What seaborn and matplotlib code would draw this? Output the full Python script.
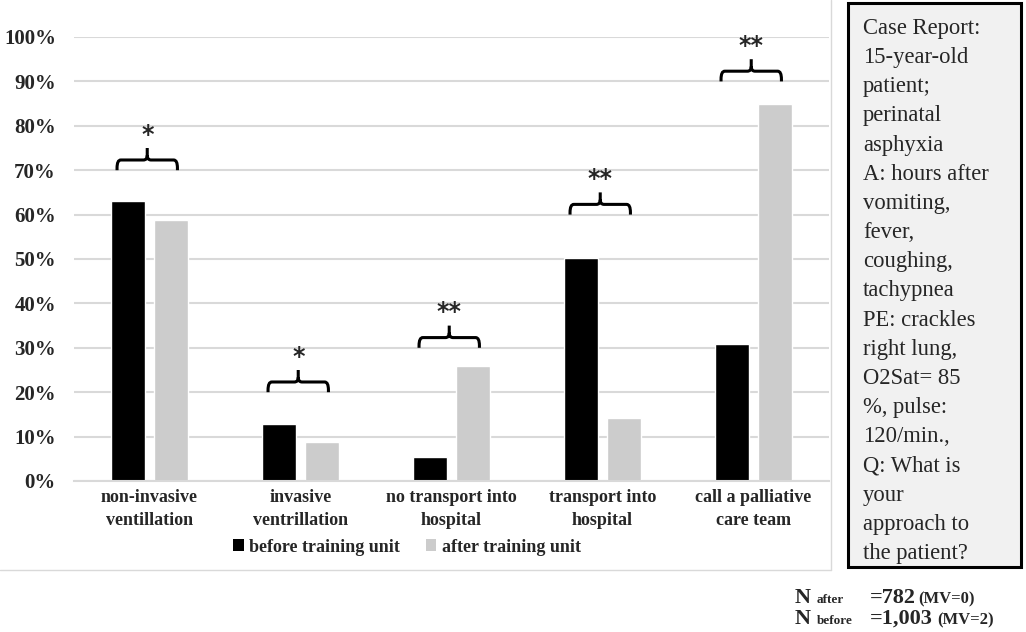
import matplotlib
matplotlib.use("Agg")
import matplotlib.pyplot as plt
from matplotlib.path import Path
from matplotlib.patches import PathPatch, Rectangle
from matplotlib.lines import Line2D
import seaborn as sns
import pandas as pd

categories = ["non-invasive\nventillation", "invasive\nventrillation",
              "no transport into\nhospital", "transport into\nhospital",
              "call a palliative\ncare team"]
before = [63.0, 12.9, 5.5, 50.2, 30.9]
after = [58.8, 8.7, 26.0, 14.3, 85.0]
series = ["before training unit", "after training unit"]
bracket_base = [70, 20, 30, 60, 90]
bracket_marks = ["*", "*", "**", "**", "**"]
yticks = list(range(0, 101, 10))
case_text = ("Case Report:\n15-year-old\npatient;\nperinatal\nasphyxia\n"
             "A: hours after\nvomiting,\nfever,\ncoughing,\ntachypnea\n"
             "PE: crackles\nright lung,\nO2Sat= 85\n%, pulse:\n120/min.,\n"
             "Q: What is\nyour\napproach to\nthe patient?")

df = pd.DataFrame({
    "category": categories * 2,
    "phase": [series[0]] * len(categories) + [series[1]] * len(categories),
    "value": before + after,
})

sns.set_style("white")
plt.rcParams["font.family"] = ["Liberation Serif", "DejaVu Serif"]

W, H = 1026, 632
fig = plt.figure(figsize=(W / 100, H / 100), dpi=100)
ax = fig.add_axes([74 / W, 1 - 481 / H, (829 - 74) / W, (481 - 37) / H])

sns.barplot(data=df, x="category", y="value", hue="phase", order=categories,
            hue_order=series, palette=["#000000", "#cccccc"], width=0.576,
            gap=0.22, ax=ax, legend=False, saturation=1, errorbar=None)

ax.set_ylim(0, 100)
ax.set_xlim(-0.5, len(categories) - 0.5)
ax.set_yticks(yticks)
ax.set_yticklabels([f"{t}%" for t in yticks], fontsize=15, fontweight="bold")
ax.set_xticks(range(len(categories)))
ax.set_xticklabels(categories, fontsize=13, fontweight="bold", linespacing=1.45)
ax.tick_params(axis="y", length=0, pad=13)
ax.tick_params(axis="x", length=0, pad=6)
ax.set_xlabel("")
ax.set_ylabel("")
ax.yaxis.grid(True, color="#d9d9d9", linewidth=1.5)
ax.set_axisbelow(True)
for s in ["top", "right", "left"]:
    ax.spines[s].set_visible(False)
ax.spines["bottom"].set_color("#d9d9d9")
ax.spines["bottom"].set_linewidth(1.5)

# significance braces
hw = 0.2
for i, (b, m) in enumerate(zip(bracket_base, bracket_marks)):
    xc = i - 0.015
    x0, x1 = xc - hw, xc + hw
    yh = b + 2.3
    yt = b + 5.0
    rx, ry = 0.025, 1.8
    verts = [(x0, b), (x0, yh - ry), (x0, yh), (x0 + rx, yh),
             (xc - rx, yh), (xc, yh), (xc, yh + ry * 0.6), (xc, yt),
             (xc, yh + ry * 0.6), (xc, yh), (xc + rx, yh),
             (x1 - rx, yh), (x1, yh), (x1, yh - ry), (x1, b)]
    codes = [Path.MOVETO, Path.LINETO, Path.CURVE3, Path.CURVE3,
             Path.LINETO, Path.CURVE3, Path.CURVE3, Path.LINETO,
             Path.MOVETO, Path.CURVE3, Path.CURVE3,
             Path.LINETO, Path.CURVE3, Path.CURVE3, Path.LINETO]
    ax.add_patch(PathPatch(Path(verts, codes), fill=False, lw=2.2,
                           edgecolor="black", capstyle="butt", clip_on=False))
    ax.text(xc, b + 8.0, m, ha="center", va="center", fontsize=17,
            fontweight="bold", family=["DejaVu Sans"], clip_on=False)

# legend
handles = [Rectangle((0, 0), 1, 1, facecolor=c, edgecolor="none")
           for c in ["#000000", "#cccccc"]]
fig.legend(handles, series, loc="center", bbox_to_anchor=(407 / W, 1 - 547 / H),
           ncol=2, frameon=False, handlelength=0.6, handleheight=0.6,
           handletextpad=0.3, columnspacing=1.4,
           prop={"family": "Liberation Serif", "weight": "bold", "size": 13})

# chart-area frame (right and bottom)
fig.add_artist(Line2D([831 / W, 831 / W], [1, 1 - 570 / H], color="#d9d9d9",
                      lw=1, transform=fig.transFigure))
fig.add_artist(Line2D([0, 831 / W], [1 - 570 / H, 1 - 570 / H], color="#d9d9d9",
                      lw=1, transform=fig.transFigure))

# case report box
fig.add_artist(Rectangle((848 / W, 1 - 567 / H), (1021 - 848) / W, (567 - 3) / H,
                         facecolor="#f1f1f1", edgecolor="black", lw=2.2,
                         transform=fig.transFigure))
fig.text(863 / W, 1 - 18 / H, case_text, ha="left", va="top", fontsize=16.3,
         linespacing=1.51, family=["Liberation Serif"])

# sample sizes
rows = [("after", "=782", "(MV=0)", 603, 918),
        ("before", "=1,003", "(MV=2)", 624, 937)]
for sub, n, mv, yb, xmv in rows:
    yy = 1 - yb / H
    fig.text(795 / W, yy, "N", fontsize=16, fontweight="bold", va="baseline")
    fig.text(817 / W, yy, sub, fontsize=9.5, fontweight="bold", va="baseline")
    fig.text(870 / W, yy, n, fontsize=16, fontweight="bold", va="baseline")
    fig.text(xmv / W, yy, mv, fontsize=12, fontweight="bold", va="baseline")

fig.savefig("out.png", dpi=100)
